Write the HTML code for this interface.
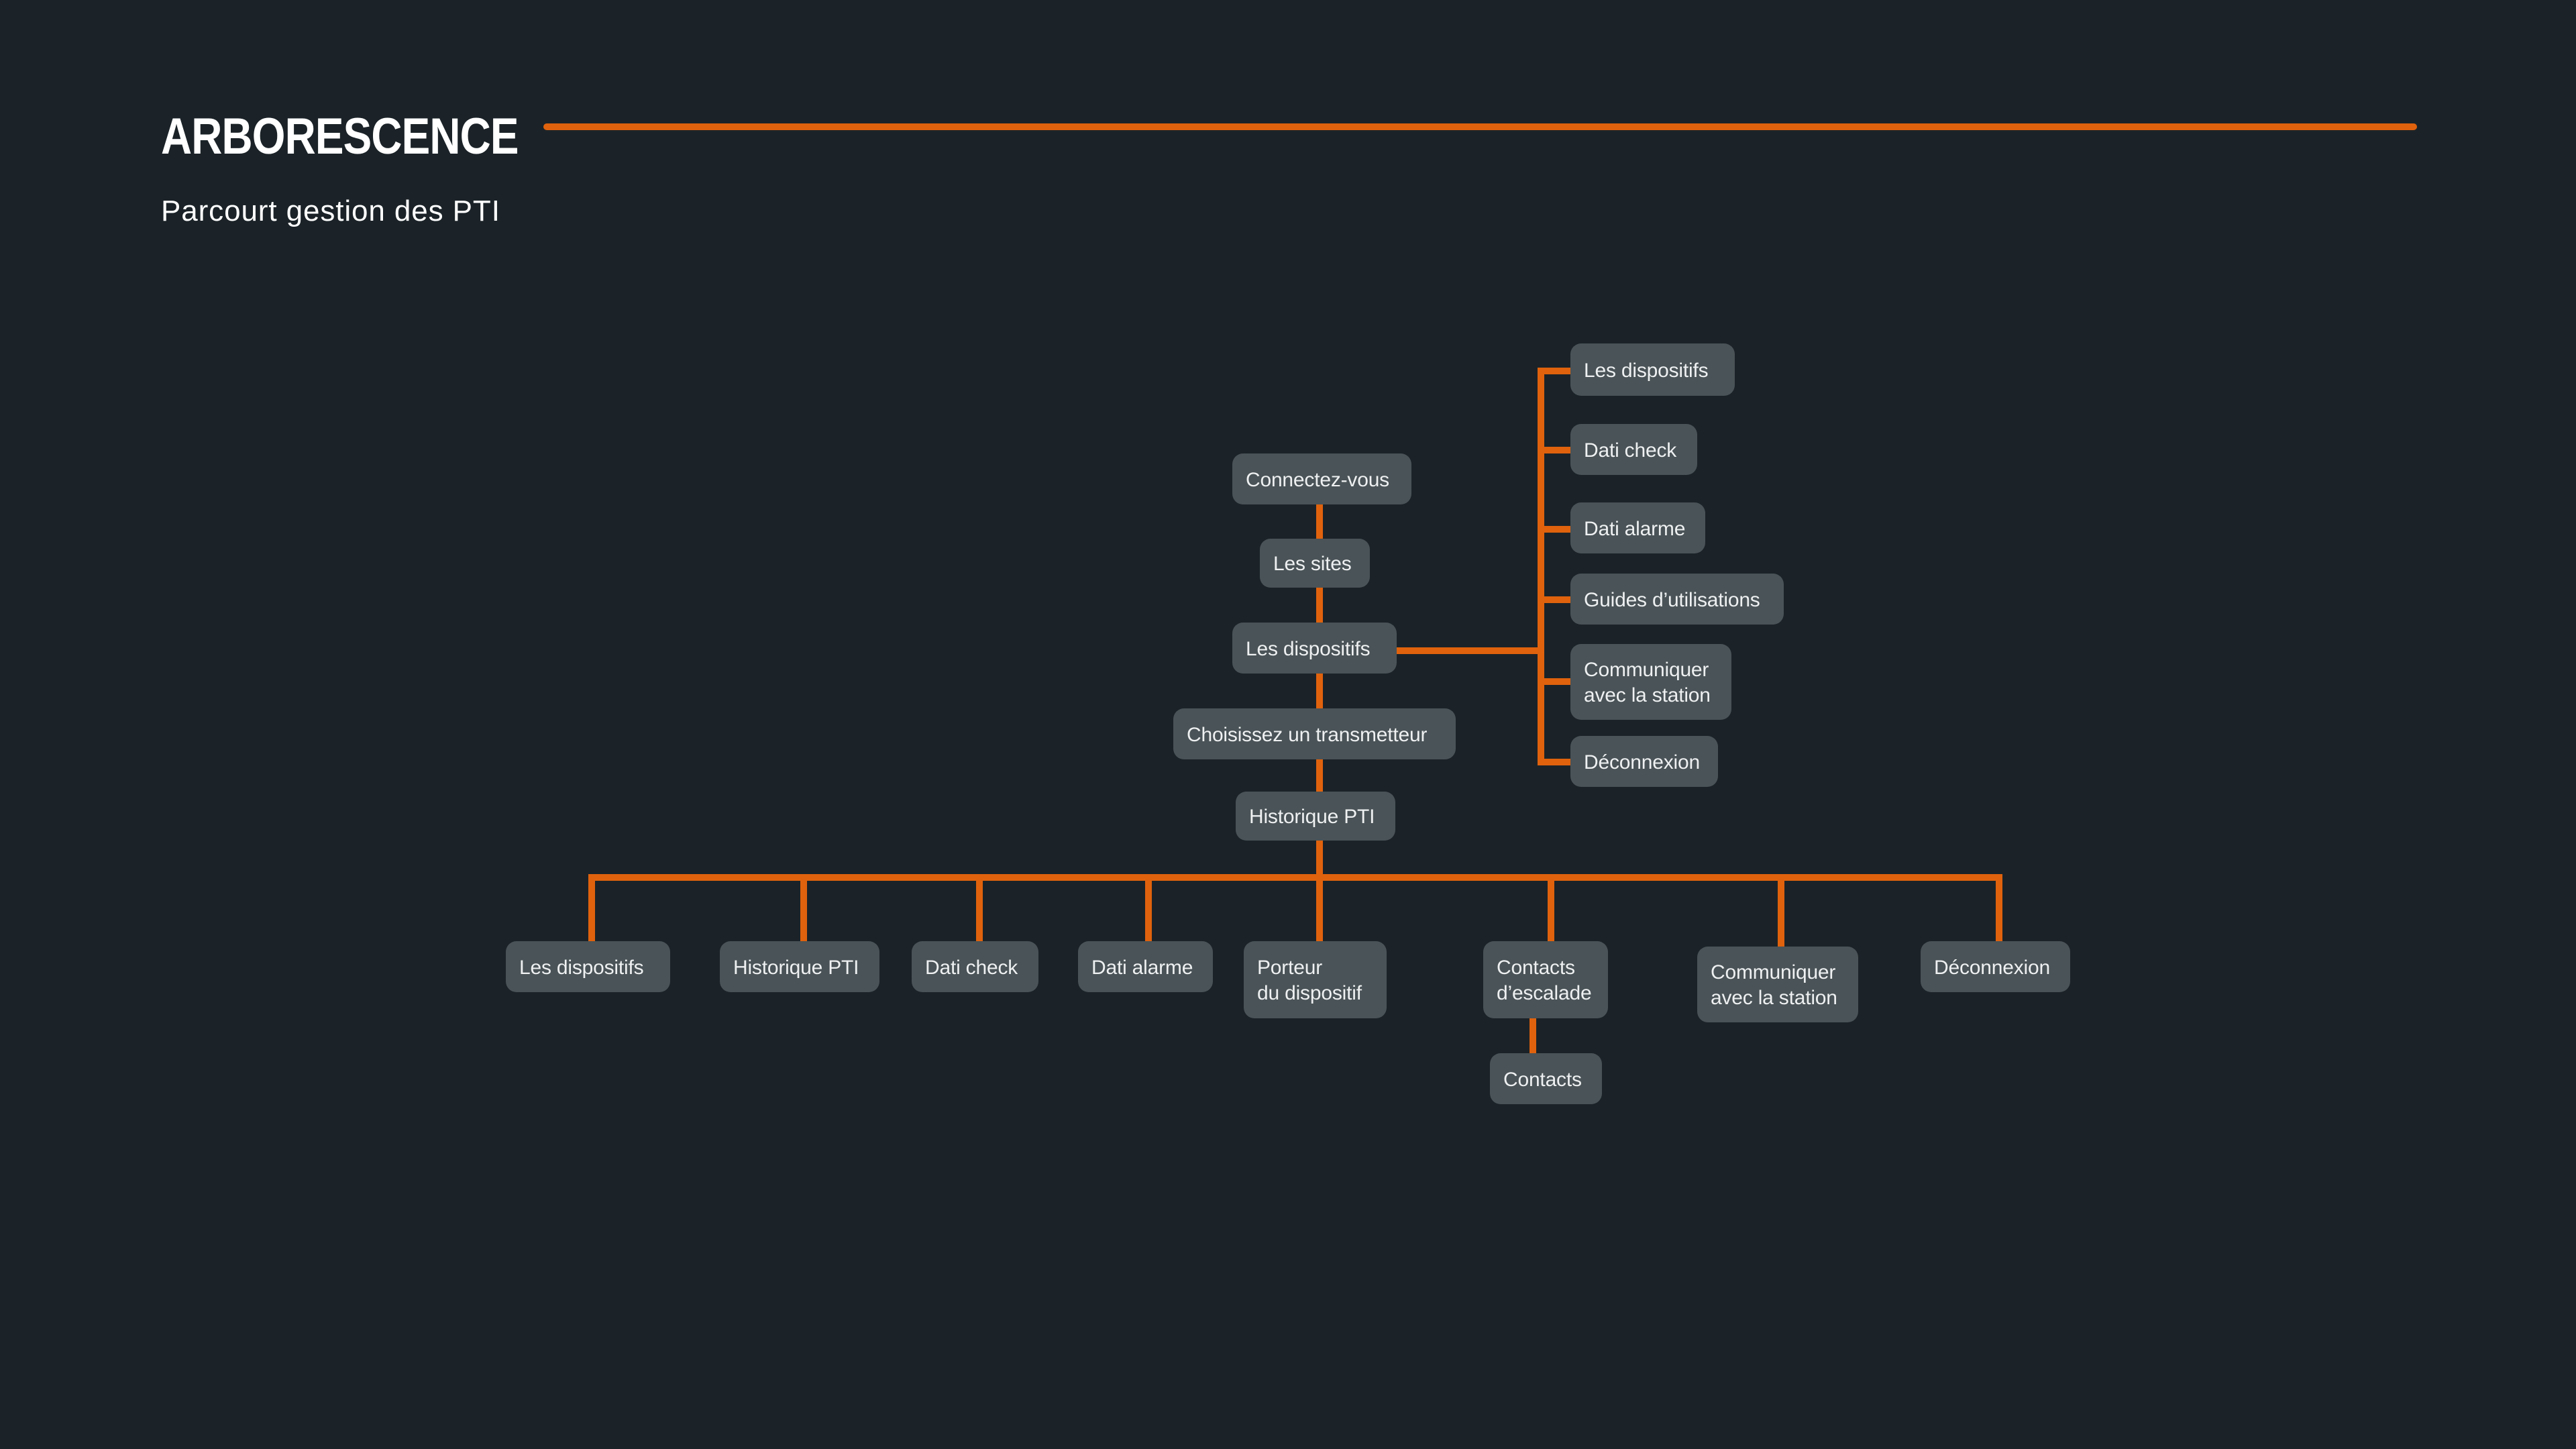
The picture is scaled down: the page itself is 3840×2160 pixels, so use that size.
<!DOCTYPE html>
<html><head><meta charset="utf-8"><style>
html,body{margin:0;padding:0}
body{width:3840px;height:2160px;background:#1b2328;position:relative;overflow:hidden;font-family:"Liberation Sans",sans-serif}
.t{position:absolute;left:240px;top:160px;font-size:76px;font-weight:bold;color:#fff;letter-spacing:-1px;transform:scaleX(0.84);transform-origin:left top}
.s{position:absolute;left:240px;top:290px;font-size:44px;color:#fff;letter-spacing:0.9px}
.n{position:absolute;background:#4a5357;border-radius:16px;color:#eef0f1;font-size:30px;line-height:38px;padding:3px 0 0 20px;box-sizing:border-box;display:flex;align-items:center;white-space:nowrap;letter-spacing:-0.2px}
svg{position:absolute;left:0;top:0}
</style></head><body>
<div class="t">ARBORESCENCE</div>
<div class="s">Parcourt gestion des PTI</div>
<svg width="3840" height="2160">
<g stroke="#e0620d" stroke-width="10" fill="none">
<line x1="815" y1="189" x2="3598" y2="189" stroke-linecap="round"/>
<line x1="1967" y1="752" x2="1967" y2="1403"/>
<line x1="2082" y1="970" x2="2297" y2="970"/>
<line x1="2297" y1="553" x2="2297" y2="1139"/>
<line x1="2292" y1="553" x2="2345" y2="553"/>
<line x1="2292" y1="671" x2="2345" y2="671"/>
<line x1="2292" y1="789" x2="2345" y2="789"/>
<line x1="2292" y1="894" x2="2345" y2="894"/>
<line x1="2292" y1="1016" x2="2345" y2="1016"/>
<line x1="2292" y1="1136" x2="2345" y2="1136"/>
<line x1="877" y1="1308" x2="2985" y2="1308"/>
<line x1="882" y1="1303" x2="882" y2="1405"/>
<line x1="1198" y1="1303" x2="1198" y2="1405"/>
<line x1="1460" y1="1303" x2="1460" y2="1405"/>
<line x1="1712" y1="1303" x2="1712" y2="1405"/>
<line x1="2312" y1="1303" x2="2312" y2="1405"/>
<line x1="2655" y1="1303" x2="2655" y2="1413"/>
<line x1="2980" y1="1303" x2="2980" y2="1405"/>
<line x1="2285" y1="1515" x2="2285" y2="1572"/>
</g></svg>
<div class="n" style="left:1837px;top:676px;width:267px;height:76px">Connectez-vous</div>
<div class="n" style="left:1878px;top:803px;width:164px;height:73px">Les sites</div>
<div class="n" style="left:1837px;top:928px;width:245px;height:76px">Les dispositifs</div>
<div class="n" style="left:1749px;top:1056px;width:421px;height:76px">Choisissez un transmetteur</div>
<div class="n" style="left:1842px;top:1180px;width:238px;height:73px">Historique PTI</div>

<div class="n" style="left:2341px;top:512px;width:245px;height:78px">Les dispositifs</div>
<div class="n" style="left:2341px;top:632px;width:189px;height:76px">Dati check</div>
<div class="n" style="left:2341px;top:749px;width:201px;height:76px">Dati alarme</div>
<div class="n" style="left:2341px;top:855px;width:318px;height:76px">Guides d’utilisations</div>
<div class="n" style="left:2341px;top:960px;width:240px;height:113px">Communiquer<br>avec la station</div>
<div class="n" style="left:2341px;top:1097px;width:220px;height:76px">Déconnexion</div>

<div class="n" style="left:754px;top:1403px;width:245px;height:76px">Les dispositifs</div>
<div class="n" style="left:1073px;top:1403px;width:238px;height:76px">Historique PTI</div>
<div class="n" style="left:1359px;top:1403px;width:189px;height:76px">Dati check</div>
<div class="n" style="left:1607px;top:1403px;width:201px;height:76px">Dati alarme</div>
<div class="n" style="left:1854px;top:1403px;width:213px;height:115px">Porteur<br>du dispositif</div>
<div class="n" style="left:2211px;top:1403px;width:186px;height:115px">Contacts<br>d’escalade</div>
<div class="n" style="left:2530px;top:1411px;width:240px;height:113px">Communiquer<br>avec la station</div>
<div class="n" style="left:2863px;top:1403px;width:223px;height:76px">Déconnexion</div>
<div class="n" style="left:2221px;top:1570px;width:167px;height:76px">Contacts</div>
</body></html>
